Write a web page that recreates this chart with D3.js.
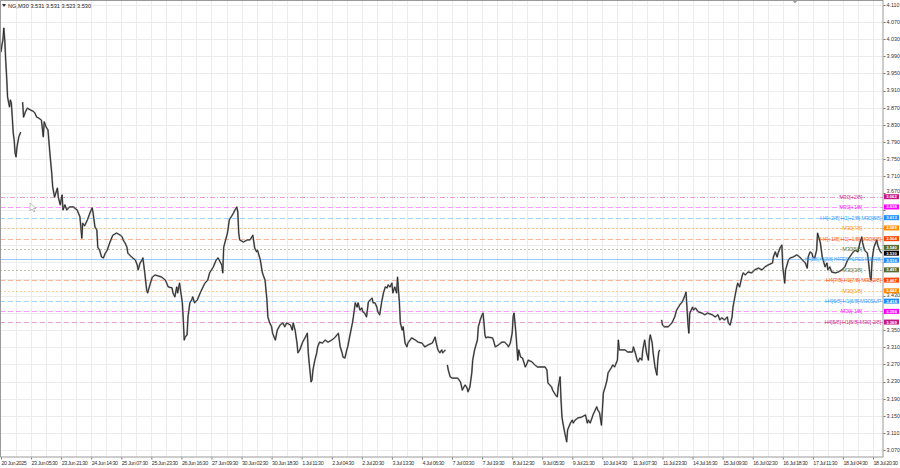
<!DOCTYPE html>
<html><head><meta charset="utf-8">
<script src="https://cdnjs.cloudflare.com/ajax/libs/d3/7.8.5/d3.min.js"></script>
<style>html,body{margin:0;padding:0;background:#fff;}svg{display:block;font-family:"Liberation Sans",Arial,sans-serif;}</style>
</head><body><svg id="c" width="900" height="468"></svg>
<script>
// ---- data ----
const symbolTitle = "NG,M30";
const ohlcText = "3.531 3.531 3.523 3.530";
const currentPrice = 3.530;

const bars = [0,1,2,3,4,5,6,7,9,10,11,12,13,14,15,16,17,19,21,22,
23,24,26,28,31,34,36,38,40,43,45,46,48,50,52,54,55,57,60,61,63,65,66,68,70,73,77,81,84,86,87,89,92,95,97,98,100,102,103,105,107,109,111,113,116,119,123,127,129,130,132,134,135,139,143,145,146,148,150,151,153,155,156,159,161,164,167,171,175,178,182,183,185,187,188,190,193,194,195,196,198,199,201,203,204,206,209,212,215,217,220,222,226,229,231,235,236,237,241,243,245,247,249,251,252,253,254,258,262,265,268,270,272,273,276,278,279,281,283,284,286,288,289,292,294,297,300,302,304,308,310,311,313,315,316,318,321,324,326,327,328,330,331,332,334,336,337,339,342,345,348,352,355,359,361,363,364,366,368,369,371,374,375,377,379,380,382,384,385,387,389,391,393,395,396,398,400,401,403,405,407,409,411,412,414,416,417,419,421,422,424,425,427,428,430,432,433,437,441,444,448,451,454,459,462,463,465,467,469,470,473,474,
475,476,478,480,483,486,489,491,492,494,496,497,499,501,502,504,507,508,510,512,513,514,515,516,518,523,524,526,529,533,536,539,540,542,544,545,546,548,549,550,551,553,555,558,560,561,565,568,571,576,579,581,582,586,587,590,592,593,595,596,597,598,600,602,603,606,608,609,611,614,618,622,624,625,627,629,630,634,635,637,639,640,641,643,645,646,648,650,651,653,656,657,658,661,664,667,672,673,675,677,678,680,682,683,685,687,689,690,691,693,694,696,698,699,700,701,702,
703,704,706,710,714,717,719,721,723,725,726,728,729,730,731,732,733,736,737,739,742,746,749,752,757,760,763,765,767,770,773,774,776,778,779,781,783,784,786,789,790,792,795,799,802,806,810,813,816,821,822,824,826,827,829,831,832,834,835,838,840,843,847,850,853,856,858,859,861,863,864,866,868,869,872,874,875,877,879,880,882,884,888,891,895,898,901,906,909,912,914,916,917,919,922,923,925,926,927,929,932,933,935,937];

const closes = [4.000,4.017,4.028,4.056,4.028,3.981,3.942,3.895,3.872,3.888,3.881,3.848,3.811,3.795,3.764,3.755,3.778,3.802,3.813,null,
3.883,3.848,3.860,3.869,3.865,3.862,3.858,3.848,3.846,3.841,3.802,3.837,3.825,3.818,3.764,3.717,3.685,3.661,3.682,3.661,3.643,3.666,3.631,3.643,3.631,3.638,3.638,3.631,3.615,3.565,3.600,3.594,3.608,3.626,3.636,3.624,3.591,3.584,3.544,3.537,3.521,3.519,3.530,3.537,3.556,3.572,3.577,3.572,3.568,3.561,3.554,3.544,3.530,3.521,3.514,3.502,3.491,3.507,3.514,3.519,3.484,3.444,3.437,3.460,3.474,3.479,3.477,3.474,3.467,3.451,3.449,3.437,3.428,3.451,3.437,3.460,3.414,3.374,3.327,3.334,3.339,3.381,3.414,3.421,3.428,3.414,3.421,3.437,3.451,3.460,3.467,3.484,3.498,3.514,3.519,3.502,3.484,3.544,3.577,3.608,3.615,3.622,3.631,3.638,3.626,3.577,3.561,3.556,3.561,3.561,3.572,3.542,3.533,3.537,3.514,3.486,3.479,3.467,3.421,3.381,3.367,3.358,3.343,3.327,3.350,3.362,3.367,3.358,3.367,3.362,3.350,3.367,3.350,3.320,3.297,3.304,3.322,3.334,3.343,3.297,3.273,3.229,3.234,3.257,3.280,3.297,3.311,3.322,3.320,3.327,3.322,3.327,3.332,3.343,3.311,3.297,3.287,3.285,3.304,3.311,3.334,3.367,3.381,3.414,3.404,3.414,3.397,3.402,3.393,3.390,3.381,3.416,3.421,3.425,3.414,3.414,3.404,3.393,3.386,3.414,3.437,3.451,3.449,3.456,3.451,3.460,3.437,3.451,3.437,3.474,3.414,3.367,3.350,3.358,3.320,3.311,3.320,3.332,3.327,3.322,3.320,3.311,3.315,3.320,3.334,3.322,3.304,3.297,3.304,3.297,3.304,null,
3.269,3.257,3.241,3.238,3.238,3.238,3.229,3.210,3.215,3.222,3.215,3.206,3.217,3.250,3.280,3.304,3.327,3.358,3.374,3.386,3.390,3.367,3.339,3.332,3.334,3.332,3.327,3.311,3.315,3.322,3.322,3.315,3.311,3.320,3.343,3.381,3.390,3.343,3.311,3.280,3.304,3.287,3.285,3.264,3.273,3.280,3.276,3.269,3.264,3.264,3.264,3.257,3.227,3.217,3.210,3.199,3.194,3.217,3.241,3.187,3.147,3.133,3.110,3.089,3.117,3.133,3.140,3.133,3.140,3.145,3.147,3.152,3.133,3.140,3.133,3.145,3.152,3.171,3.164,3.157,3.128,3.164,3.203,3.217,3.234,3.250,3.257,3.264,3.269,3.264,3.280,3.327,3.304,3.304,3.304,3.299,3.299,3.311,3.297,3.280,3.276,3.285,3.280,3.304,3.327,3.297,3.280,3.327,3.339,3.320,3.297,3.264,3.245,3.280,3.299,3.304,null,
3.374,3.362,3.358,3.358,3.367,3.381,3.397,3.404,3.411,3.416,3.421,3.432,3.439,3.404,3.367,3.343,3.390,3.404,3.397,3.402,3.393,3.390,3.386,3.390,3.386,3.381,3.386,3.374,3.379,3.374,3.381,3.367,3.362,3.381,3.404,3.428,3.451,3.460,3.451,3.479,3.484,3.479,3.486,3.484,3.491,3.495,3.491,3.498,3.502,3.507,3.521,3.533,3.521,3.530,3.542,3.549,3.498,3.460,3.491,3.514,3.519,3.521,3.526,3.521,3.514,3.507,3.495,3.521,3.533,3.530,3.521,3.519,3.537,3.577,3.554,3.521,3.514,3.498,3.507,3.491,3.498,3.486,3.484,3.486,3.491,3.498,3.514,3.530,3.537,3.533,3.554,3.568,3.554,3.537,3.530,3.514,3.474,3.467,3.514,3.544,3.561,3.549,3.537,3.530];

const timeLabels = ["20 Jun 2025","23 Jun 05:30","23 Jun 21:30","24 Jun 14:30","25 Jun 07:30","25 Jun 23:30","26 Jun 16:30","27 Jun 09:30","30 Jun 02:30","30 Jun 18:30","1 Jul 11:30","2 Jul 04:30","2 Jul 20:30","3 Jul 13:30","4 Jul 06:30","7 Jul 03:30","7 Jul 19:30","8 Jul 12:30","9 Jul 05:30","9 Jul 21:30","10 Jul 14:30","11 Jul 07:30","11 Jul 23:30","14 Jul 16:30","15 Jul 09:30","16 Jul 02:30","16 Jul 18:30","17 Jul 11:30","18 Jul 04:30","18 Jul 20:30"];
const barsPerLabel = 32;

const priceLabels = ["4.110","4.070","4.030","3.990","3.950","3.910","3.870","3.830","3.790","3.750","3.710","3.670","3.630","3.590","3.550","3.510","3.470","3.430","3.390","3.350","3.310","3.270","3.230","3.190","3.150","3.110","3.070"];

const levelPrices = [3.662,3.638,3.613,3.589,3.564,3.540,3.516,3.491,3.467,3.442,3.418,3.394,3.369];
const levelLabels = ["M30[+2/8]","M30[+1/8]","H4[+2/8] H1[+2/8] M30[8/8]","M30[7/8]","H4[+1/8] H1[+1/8] M30[6/8]","M30[5/8]","H4[8/8] H1[8/8] H4RES H1RES M30[4/8]","M30[3/8]","H4[7/8] H1[7/8] M30[2/8]","M30[1/8]","H4[6/8] H1[6/8] M30SUP","M30[-1/8]","H4[5/8] H1[5/8] M30[-2/8]"];
const levelColors = ["#c71585","#ff00ff","#1e90ff","#ff8c00","#ff4500","#556b2f","#1e90ff","#556b2f","#ff4500","#ff8c00","#1e90ff","#ff00ff","#c71585"];
const levelStyles = ["dashdot","dash","dash","dot","dash","dot","solid","dot","dash","dot","dash","dash","dash"];

// ---- layout ----
const W = 900, H = 468;
const plotL = 0, plotR = 883, plotT = 0, plotB = 457;
const BOX_H = 5;
const svg = d3.select("#c");

const x = d3.scaleLinear().domain([0, barsPerLabel * (timeLabels.length - 1)]).range([1, 873]);
const y = d3.scaleLinear().domain([+priceLabels[priceLabels.length-1], +priceLabels[0]]).range([450, 5]);

svg.append("defs").append("clipPath").attr("id","plotclip")
  .append("rect").attr("x",plotL).attr("y",plotT).attr("width",plotR-plotL).attr("height",plotB-plotT);

// grid
const gridG = svg.append("g");
const vGrid = d3.range(barsPerLabel/2, 940, barsPerLabel/2).filter(b => x(b) < plotR);
gridG.selectAll("line.v").data(vGrid).join("line")
  .attr("x1", d => Math.round(x(d))+0.5).attr("x2", d => Math.round(x(d))+0.5)
  .attr("y1", plotT).attr("y2", plotB).attr("stroke","#ececec").attr("stroke-width",1);
gridG.selectAll("line.h").data(priceLabels.map(Number)).join("line")
  .attr("x1", plotL).attr("x2", plotR)
  .attr("y1", d => Math.round(y(d))+0.5).attr("y2", d => Math.round(y(d))+0.5)
  .attr("stroke","#ececec").attr("stroke-width",1);

// level lines
const dashMap = {dash:"5,3", dot:"2,2", dashdot:"5,2,1,2", solid:null};
const lvlG = svg.append("g").attr("clip-path","url(#plotclip)");
levelPrices.forEach((p,i) => {
  lvlG.append("line")
    .attr("x1", plotL).attr("x2", plotR)
    .attr("y1", Math.round(y(p))+0.5).attr("y2", Math.round(y(p))+0.5)
    .attr("stroke", levelColors[i])
    .attr("stroke-opacity", levelStyles[i]==="solid" ? 0.45 : 0.4)
    .attr("stroke-width", 1)
    .attr("stroke-dasharray", dashMap[levelStyles[i]]);
});

// price series
const series = bars.map((b,i) => ({b, c: closes[i]}));
const line = d3.line().defined(d => d.c != null).x(d => x(d.b)).y(d => y(d.c));
svg.append("path").datum(series)
  .attr("clip-path","url(#plotclip)")
  .attr("fill","none").attr("stroke","#9a9a9a").attr("stroke-width",1.8).attr("stroke-linejoin","round")
  .attr("d", line);
svg.append("path").datum(series)
  .attr("clip-path","url(#plotclip)")
  .attr("fill","none").attr("stroke","#222").attr("stroke-width",0.9).attr("stroke-linejoin","miter")
  .attr("d", line);

// level labels (text)
const lblG = svg.append("g");
levelPrices.forEach((p,i) => {
  const lab = levelLabels[i];
  const isM30 = lab.startsWith("M30");
  const isLong = lab.length > 30;
  const t = lblG.append("text")
    .attr("y", y(p) + 2)
    .attr("font-size", isLong ? 4.8 : 5.6).attr("letter-spacing", isLong ? -0.3 : -0.25)
    .attr("fill", levelColors[i]).attr("fill-opacity", 0.9)
    .attr("text-anchor","end")
    .attr("x", isM30 ? 862 : 881)
    .text(lab);
});

// frame
svg.append("rect").attr("x",0.5).attr("y",0.5).attr("width",plotR-0.5).attr("height",plotB-0.5)
  .attr("fill","none").attr("stroke","#9a9a9a").attr("stroke-width",1);

// level price box positions (nudged so neighbours around the current price don't overlap)
const boxes = levelPrices.map((p,i) => {
  let off = 0;
  const d = p - currentPrice;
  if (d > 0 && d < 0.012) off = -1.5;
  if (d < 0 && d > -0.016) off = 1;
  return {price: p, color: levelColors[i], cy: y(p) + off};
});
boxes.push({price: currentPrice, color: "#000", cy: y(currentPrice)});

// right axis: labels hidden behind a price box are not drawn, partly hidden ones are nudged
const shownTicks = [];
priceLabels.forEach(lbl => {
  const v = +lbl, ty = y(v);
  const near = boxes.map(b => b.cy - ty);
  const minAbs = d3.min(near, d => Math.abs(d));
  if (minAbs < 4.5 && !(near.filter(d=>Math.abs(d)<12).length===1 && near.filter(d => Math.abs(d) < 4.5).every(d => d > 3))) return;
  let nudge = 0;
  const closeBelow = near.filter(d => d > 0 && d < 6);
  if (closeBelow.length) nudge = -(6 - d3.min(closeBelow));
  shownTicks.push({lbl, v, nudge});
});
const ya = svg.append("g").attr("transform",`translate(${plotR+0.5},0)`);
ya.selectAll("line").data(priceLabels).join("line")
  .attr("x1",0).attr("x2",2).attr("y1", d => Math.round(y(+d))+0.5).attr("y2", d => Math.round(y(+d))+0.5).attr("stroke","#777");
ya.selectAll("text").data(shownTicks).join("text")
  .attr("x",3).attr("y", d => y(d.v) + 1.9 + d.nudge)
  .attr("font-size",5.4).attr("fill","#333")
  .text(d => d.lbl);

// bottom axis
const xTicks = timeLabels.map((_,i) => i*barsPerLabel);
const xAxis = d3.axisBottom(x).tickValues(xTicks).tickFormat((d,i) => timeLabels[i]).tickSize(2).tickSizeOuter(0);
const xa = svg.append("g").attr("transform",`translate(0,${plotB+0.5})`).call(xAxis);
xa.select(".domain").remove();
xa.selectAll("line").attr("stroke","#777");
xa.selectAll("text").attr("text-anchor","start").attr("dx", 0).attr("y", 4).attr("dy","0.71em")
  .attr("font-size",5.4).attr("letter-spacing",-0.45).attr("fill","#333").attr("font-family","Liberation Sans, Arial, sans-serif");

// level price boxes
const boxG = svg.append("g");
boxes.forEach(b => {
  boxG.append("rect").attr("x", plotR+1).attr("y", b.cy - BOX_H/2).attr("width", 15).attr("height", BOX_H).attr("fill", b.color);
  boxG.append("text").attr("x", plotR+8.5).attr("y", b.cy + 1.5).attr("text-anchor","middle")
    .attr("font-size",4.2).attr("font-weight","bold").attr("fill","#fff").text(d3.format(".3f")(b.price));
});

// header
svg.append("path").attr("d","M2,4 L6,4 L4,7 Z").attr("fill","#333");
svg.append("text").attr("x",8).attr("y",7.5).attr("font-size",5.6).attr("fill","#222")
  .text(symbolTitle + "   " + ohlcText);

// small marker on top border
svg.append("path").attr("d",`M${x(845)-2.5},0.5 L${x(845)+2.5},0.5 L${x(845)},3.5 Z`).attr("fill","#999");

// mouse cursor glyph
svg.append("path").attr("d","M30,203 L30,211 L32,209 L34,212 L35,211.5 L33.5,208.5 L36,208.5 Z")
  .attr("fill","#fff").attr("stroke","#999").attr("stroke-width",0.6);
</script></body></html>
